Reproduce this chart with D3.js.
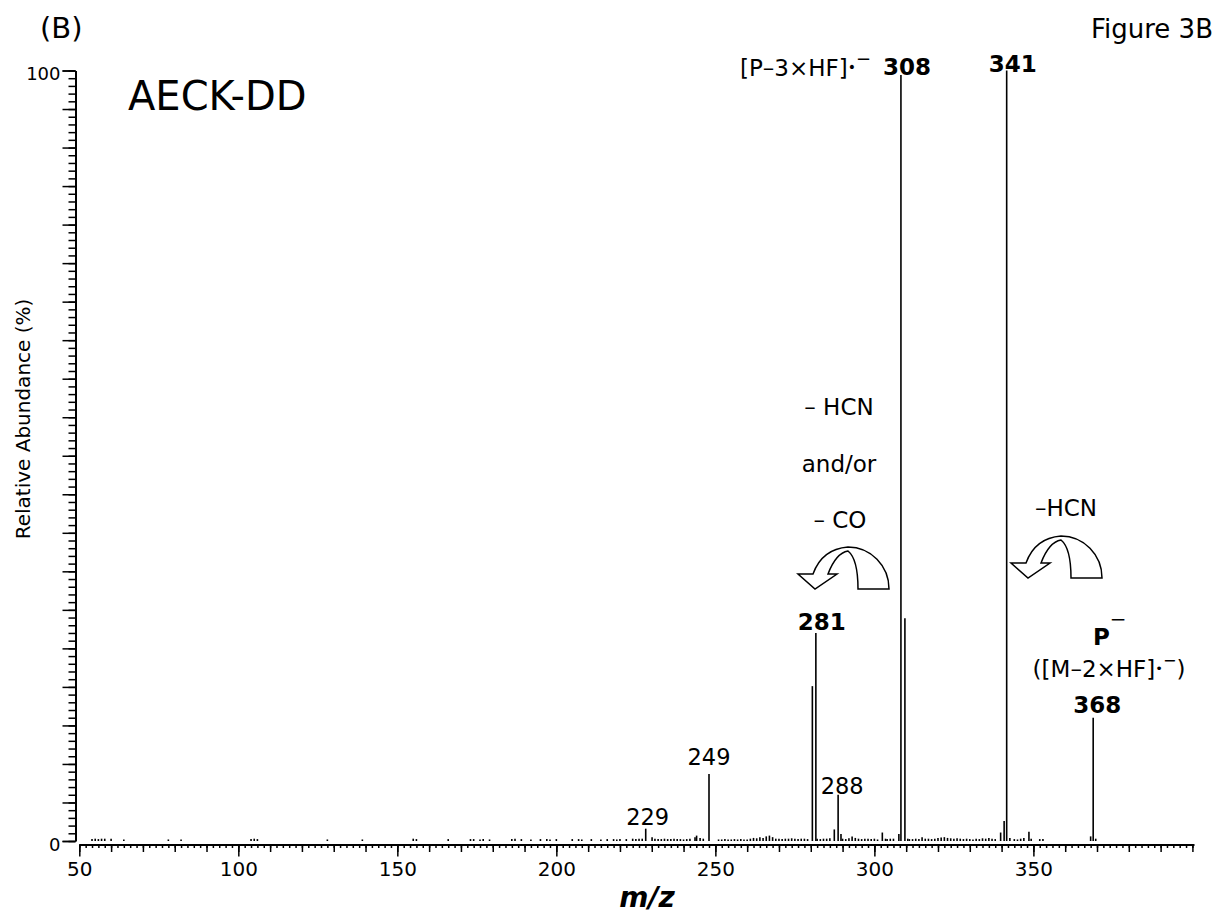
<!DOCTYPE html>
<html>
<head>
<meta charset="utf-8">
<script src="https://cdn.jsdelivr.net/npm/d3@7"></script>
<style>
  body { margin: 0; background: #fff; }
  svg { display: block; }
  text { font-family: "DejaVu Sans", Verdana, sans-serif; fill: #000; }
</style>
</head>
<body>
<svg id="chart" width="1228" height="917"></svg>
<script>
// main peaks: m/z, relative abundance in %
var peakMz = [228.1, 248.0, 280.5, 281.6, 287.4, 288.6, 308.35, 309.6, 340.8, 341.6, 368.8];
var peakAb = [1.6, 8.7, 20.1, 27.0, 1.5, 6.0, 99.4, 28.9, 2.6, 100, 16.0];

// small peaks / baseline noise
var minorMz = [54, 55, 56, 57, 58, 60, 64, 78, 82, 104, 105, 106, 128, 139, 155, 156, 166, 173, 174, 176,
  177, 179, 186, 187, 189, 192, 195, 197, 198, 200, 205, 207, 208, 211, 214, 216, 218, 219, 220, 222,
  224, 225, 226, 227, 230.1, 231, 232, 233, 234, 235, 236, 237, 238, 239, 240, 241, 242, 243.6, 244.1, 245.2,
  246.2, 251, 252, 253, 254, 255, 256, 257, 258, 259, 260, 261, 262, 263, 264, 265, 266, 267, 268, 269,
  270, 271, 272, 273, 274, 275, 276, 277, 278, 279, 282, 283, 284, 285, 286, 289.5, 290, 291, 292, 293,
  294, 295, 296, 297, 298, 299, 300, 301, 302.5, 303.5, 304, 305, 306, 307.7, 310.5, 311, 312, 313, 314, 315,
  316, 317, 318, 319, 320, 321, 322, 323, 324, 325, 326, 327, 328, 329, 330, 331, 332, 333, 334, 335,
  336, 337, 338, 339.7, 342.6, 344, 345, 346, 347, 348.6, 349.3, 352, 353, 368.0, 369.6];
var minorAb = [0.25, 0.3, 0.25, 0.3, 0.3, 0.3, 0.2, 0.2, 0.2, 0.25, 0.3, 0.25, 0.2, 0.2, 0.3, 0.25, 0.25, 0.25, 0.25, 0.2,
  0.25, 0.2, 0.25, 0.3, 0.25, 0.2, 0.25, 0.25, 0.2, 0.25, 0.25, 0.25, 0.2, 0.25, 0.2, 0.25, 0.25, 0.2, 0.25, 0.25,
  0.3, 0.25, 0.3, 0.3, 0.5, 0.3, 0.25, 0.25, 0.3, 0.25, 0.25, 0.3, 0.25, 0.25, 0.2, 0.25, 0.3, 0.5, 0.7, 0.4,
  0.3, 0.2, 0.2, 0.25, 0.2, 0.2, 0.25, 0.2, 0.25, 0.2, 0.2, 0.3, 0.4, 0.35, 0.5, 0.4, 0.6, 0.7, 0.5, 0.3,
  0.3, 0.25, 0.3, 0.3, 0.35, 0.3, 0.25, 0.3, 0.3, 0.25, 0.3, 0.25, 0.3, 0.3, 0.35, 0.9, 0.3, 0.25, 0.35, 0.6,
  0.4, 0.3, 0.25, 0.3, 0.3, 0.25, 0.3, 0.2, 1.1, 0.3, 0.25, 0.3, 0.3, 0.9, 0.3, 0.25, 0.25, 0.3, 0.25, 0.5,
  0.3, 0.3, 0.25, 0.3, 0.4, 0.45, 0.5, 0.4, 0.35, 0.3, 0.35, 0.3, 0.25, 0.3, 0.25, 0.2, 0.3, 0.25, 0.35, 0.3,
  0.4, 0.3, 0.25, 1.1, 0.4, 0.25, 0.2, 0.3, 0.4, 1.2, 0.3, 0.25, 0.25, 0.6, 0.3];

// peak labels
var labelText = ["229", "249", "281", "288", "308", "341", "368"];
var labelMz = [228.1, 248.0, 281.6, 288.6, 308.35, 341.6, 368.8];
var labelAb = [1.6, 8.7, 27.0, 6.0, 99.4, 100, 16.0];

var xTickLabels = [50, 100, 150, 200, 250, 300, 350];
var yTickLabels = [0, 100];

var svg = d3.select("#chart");

var x = d3.scaleLinear().domain([50, 400.5]).range([79.3, 1194]);
var y = d3.scaleLinear().domain([0, 100]).range([841, 70.5]);
var xAxisY = 844.5;   // the m/z axis sits just under the zero line
var yAxisX = 75.5;

// ---- x axis: minor / medium / labelled ticks
function xLayer(vals, size) {
    return d3.axisBottom(x).tickValues(vals).tickSize(size).tickSizeOuter(0);
}
var gx1 = svg.append("g").attr("transform", "translate(0," + xAxisY + ")")
    .call(xLayer(d3.range(50, 401, 2), 3.5).tickFormat(""));
var gx2 = svg.append("g").attr("transform", "translate(0," + xAxisY + ")")
    .call(xLayer(d3.range(50, 401, 10), 7.5).tickFormat(""));
var gx3 = svg.append("g").attr("transform", "translate(0," + xAxisY + ")")
    .call(xLayer(xTickLabels, 12).tickPadding(5.5));
gx2.select(".domain").remove();
gx3.select(".domain").remove();

// ---- y axis
function yLayer(vals, size) {
    return d3.axisLeft(y).tickValues(vals).tickSize(size).tickSizeOuter(0);
}
var gy1 = svg.append("g").attr("transform", "translate(" + yAxisX + ",0)")
    .call(yLayer(d3.range(0, 101, 1), 7).tickFormat(""));
var gy2 = svg.append("g").attr("transform", "translate(" + yAxisX + ",0)")
    .call(yLayer(d3.range(0, 101, 5), 13).tickFormat(""));
var gy3 = svg.append("g").attr("transform", "translate(" + yAxisX + ",0)")
    .call(yLayer(yTickLabels, 13).tickPadding(2));
gy2.select(".domain").remove();
gy3.select(".domain").remove();

[gx1, gx2, gx3, gy1, gy2, gy3].forEach(function (g) {
    g.attr("font-family", null);
    g.selectAll(".domain").attr("stroke", "#000").attr("stroke-width", 2);
    g.selectAll(".tick line").attr("stroke", "#000").attr("stroke-width", 1.5);
});
gx3.selectAll(".tick text").attr("font-size", 20);
gy3.selectAll(".tick text").attr("font-size", 18).attr("dy", "0.5em");

// ---- spectrum sticks
function sticks(mz, ab, cls) {
    svg.append("g").attr("class", cls)
      .selectAll("line")
        .data(d3.zip(mz, ab))
      .enter().append("line")
        .attr("x1", function (d) { return x(d[0]); })
        .attr("x2", function (d) { return x(d[0]); })
        .attr("y1", y(0))
        .attr("y2", function (d) { return y(d[1]); })
        .attr("stroke", "#000")
        .attr("stroke-width", 1.6);
}
sticks(minorMz, minorAb, "minor");
sticks(peakMz, peakAb, "peaks");

// ---- peak numbers
var boldLabels = {"281": 1, "308": 1, "341": 1, "368": 1};
var labelShift = {"229": [2, -4], "249": [0, -9], "288": [4, -1], "281": [6, -3],
                  "308": [6, 0], "341": [6, 1.5], "368": [4, -5]};
svg.append("g").selectAll("text")
    .data(labelText)
  .enter().append("text")
    .attr("x", function (d, i) { return x(labelMz[i]) + labelShift[d][0]; })
    .attr("y", function (d, i) { return y(labelAb[i]) + labelShift[d][1]; })
    .attr("text-anchor", "middle")
    .attr("font-size", function (d) { return boldLabels[d] ? 23 : 22.5; })
    .attr("font-weight", function (d) { return boldLabels[d] ? "bold" : "normal"; })
    .text(function (d) { return d; });

// ---- annotations
function label(txt, px, py, size, anchor) {
    return svg.append("text").attr("x", px).attr("y", py)
        .attr("font-size", size).attr("text-anchor", anchor || "middle").text(txt);
}

label("(B)", 40, 38, 29, "start");
label("Figure 3B", 1213, 38, 26, "end");
label("AECK-DD", 128, 110, 40, "start");

svg.append("text")
    .attr("transform", "translate(30,419) rotate(-90)")
    .attr("text-anchor", "middle")
    .attr("font-size", 20)
    .text("Relative Abundance (%)");

svg.append("text")
    .attr("x", 647).attr("y", 907)
    .attr("text-anchor", "middle")
    .attr("font-size", 28)
    .attr("font-weight", "bold")
    .attr("font-style", "italic")
    .text("m/z");

// [P–3×HF]•−
var t1 = label("[P–3×HF]", 740, 76, 23, "start");
t1.append("tspan").attr("font-size", 14).attr("dy", -4).text("•");
t1.append("tspan").attr("font-size", 18).attr("dy", -7.5).text("−");

label("– HCN", 839, 415, 23);
label("and/or", 839, 472, 23);
label("– CO", 840, 528, 23);
label("–HCN", 1066, 516, 23);

var tp = svg.append("text").attr("x", 1093).attr("y", 645)
    .attr("font-size", 23).attr("font-weight", "bold").text("P");
tp.append("tspan").attr("font-size", 20).attr("font-weight", "normal").attr("dy", -19).text("−");

var tm = label("([M–2×HF]", 1109, 677, 23);
tm.append("tspan").attr("font-size", 13).attr("dy", -4).text("•");
tm.append("tspan").attr("font-size", 16).attr("dy", -7).text("−");
tm.append("tspan").attr("dy", 11).text(")");

// curved "loss" arrows
var arrowPath = "M60,42 L91,42 A41,42 0 0 0 50,0 Q24,2 15,27 L0,27 L17,42 L39,27 L30,27 " +
                "Q38,6 50,4 Q60,12 60,42 Z";
[[798, 547], [1011, 536]].forEach(function (p) {
    svg.append("path")
        .attr("d", arrowPath)
        .attr("transform", "translate(" + p[0] + "," + p[1] + ")")
        .attr("fill", "#fff")
        .attr("stroke", "#000")
        .attr("stroke-width", 1.5)
        .attr("stroke-linejoin", "miter");
});
</script>
</body>
</html>
